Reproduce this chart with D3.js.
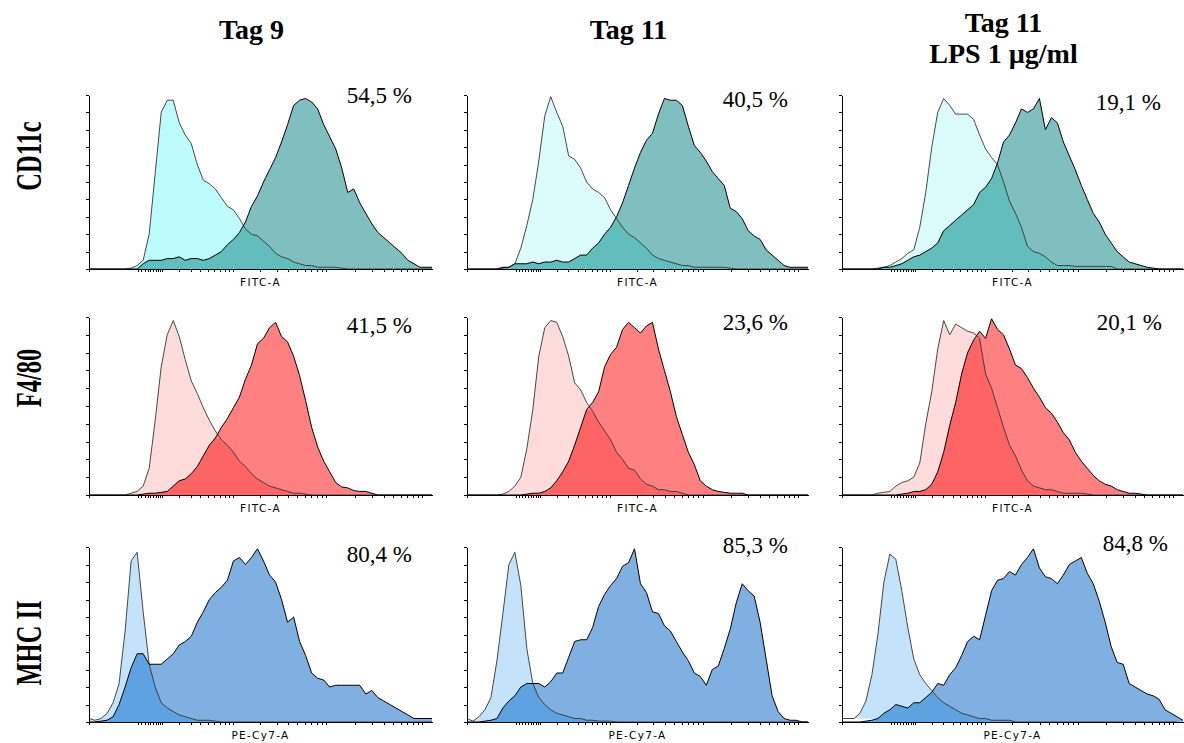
<!DOCTYPE html>
<html>
<head>
<meta charset="utf-8">
<script src="https://cdn.jsdelivr.net/npm/d3@7"></script>
<style>
  body { margin: 0; background: #fff; }
  text { fill: #000; }
</style>
</head>
<body>
<script>
  // Column headings, row markers, axis titles
  const colTitles = [["Tag 9"], ["Tag 11"], ["Tag 11", "LPS 1 µg/ml"]];
  const rowLabels = ["CD11c", "F4/80", "MHC II"];
  const axisTitles = ["FITC-A", "FITC-A", "PE-Cy7-A"];
  const percentValues = [
    [54.5, 40.5, 19.1],
    [41.5, 23.6, 20.1],
    [80.4, 85.3, 84.8],
  ];

  // Histogram channels (bins along the transformed x axis), counts in % of max
  const channels = d3.range(58);

  const cd11cTag9Ctrl  = [0,0,0,0,0,0,0, 0.5,2,5,20,55,90,97, 97,84,77,72,60,51,49, 46,41,36,34,29,23,20, 19,16,13,9,7,6,4, 3,2,2,1,1,1,1, 0.5,0,0,0,0,0,0, 0,0,0,0,0,0,0,0,0];
  const cd11cTag9Stain = [0,0,0,0,0,0,0,0,0, 3,5,5,5,6,6,7, 5,6,6,5,6,8,10, 14,17,21,27,36,42,50, 57,64,73,83,94,97,98, 96,92,83,76,69,58,44, 46,38,32,26,21,18,15, 12,9,5,3,1,1,1];
  const cd11cTag11Ctrl  = [0,0,0,0,0,0, 0.5,1,3,12,25,40,62, 88,99,90,82,65,63,58, 50,46,44,41,34,29,24, 20,18,15,12,8,6,5, 4,3,2,2,1,1,1, 1,1,1,0.5,0,0,0, 0,0,0,0,0,0,0,0,0,0];
  const cd11cTag11Stain = [0,0,0,0,0,0, 1,1,3,3,3,4,3, 4,4,5,4,4,6,8, 8,12,15,20,24,30,38, 48,58,67,74,78,89,98, 97,97,94,82,71,67,62, 56,52,48,35,33,29,22, 19,17,11,8,5,2,1, 1,1,1];
  const cd11cLpsCtrl  = [0,0,0,0,0,0, 0.5,1,2,4,6,9,11, 24,44,70,90,98,94,89, 89,89,86,77,69,64,60, 50,39,32,24,13,10,9, 7,4,2,2,2,1.5,1.5, 1.5,1.5,1.5,1.5,1.5,0,0, 0,0,0,0,0,0,0,0,0,0];
  const cd11cLpsStain = [0,0,0,0,0,0,0, 1,1,2,3,5,7,8, 10,12,15,22,25,28,31, 34,37,44,47,52,61,73, 77,84,92,90,92,98,80, 87,84,73,65,57,48,40, 32,27,20,15,10,7,4, 3,2,1,0.5,0,0,0, 0,0];

  const f480Tag9Ctrl  = [0,0,0,0,0,0,0, 1,2,5,15,42,72,90, 98,89,76,64,57,49,42, 36,31,28,24,19,16,12, 9,7,5,4,3,2,1, 1,0.5,0,0,0,0,0, 0,0,0,0,0,0,0,0,0,0,0,0,0,0,0,0];
  const f480Tag9Stain = [0,0,0,0,0,0,0,0,0, 0.5,1,1,1.5,2,5,8, 9,12,16,22,28,32,38, 43,49,55,65,73,85,88, 94,97,89,86,78,67,53, 38,27,19,13,7,4.5,4, 2.5,2,2,1,0,0,0, 0,0,0,0,0,0,0];
  const f480Tag11Ctrl  = [0,0,0,0,0,0, 0.5,2,5,10,26,48,78, 94,98,97,89,78,63,59, 52,47,41,36,31,24,20, 15,14,9,6,5,3,3, 2,2,1,0,0,0,0, 0,0,0,0,0,0,0,0,0,0,0,0,0,0,0,0,0];
  const f480Tag11Stain = [0,0,0,0,0,0,0,0,0,0, 0.5,1,1,2,4,8,13, 19,28,38,48,52,58,72, 79,83,93,97,94,91,95, 97,82,70,58,44,34,24, 17,8,5,3,2,1.5,1, 1,1,0,0,0,0,0, 0,0,0,0,0,0];
  const f480LpsCtrl  = [0,0,0,0,0,0, 1,1.5,2,5,7,8,10, 18,40,58,82,98,90,96, 94,92,91,88,68,60,49, 38,28,22,14,8,5,4, 3,3,2,1,1,1,1, 0.5,0,0,0,0,0,0, 0,0,0,0,0,0,0,0,0,0];
  const f480LpsStain = [0,0,0,0,0,0,0,0,0,0, 0.5,1,2,2,3,6,13, 24,39,52,68,80,87,92, 88,99,93,90,82,73,71, 66,60,55,49,46,41,35, 31,24,19,15,11,8,6, 5,3,2,1,1,0.5,0, 0,0,0,0,0,0];

  const mhcTag9Ctrl  = [2,1,2,5,11,22,52, 92,97,63,33,20,11,8, 6,4,3,2,1,1,1, 0.5,0,0,0,0,0,0, 0,0,0,0,0,0,0,0,0,0,0,0,0,0,0,0,0,0,0,0,0,0,0,0,0,0,0,0,0,0];
  const mhcTag9Stain = [0,0,0.5,1,3,10,20, 31,39,39,33,33,33,36, 39,44,46,49,57,63,70, 74,77,81,92,94,90,94, 99,92,84,80,70,57,60, 46,38,28,25,24,20,21, 21,21,21,21,16,18,14, 12,10,8,6,4,2,2, 2,2];
  const mhcTag11Ctrl  = [2,0.5,3,7,14,35,62, 90,97,78,42,22,14,10, 7,5,4,3,2,2,1, 1,0.5,0.5,0.5,0,0,0, 0,0,0,0,0,0,0,0,0,0,0,0,0,0,0,0,0,0,0,0,0,0,0,0,0,0,0,0,0,0];
  const mhcTag11Stain = [0,0,0,0.5,1,2,8, 12,15,20,22,22,22,20, 23,28,28,37,46,47,47, 54,66,73,78,82,89,91, 99,79,74,63,62,55,52, 46,40,35,28,26,21,30, 32,42,53,68,79,75,72, 57,36,15,6,2,1,1, 0,0];
  const mhcLpsCtrl  = [2,2,2,5,12,27,50, 80,96,93,75,54,36,27, 22,18,14,11,9,7,5, 4,3,2,2,1,1,1, 1,0,0,0,0,0,0, 0,0,0,0,0,0,0,0,0,0,0,0,0,0,0,0,0,0,0,0,0,0];
  const mhcLpsStain = [0,0,0,0,0.5,1,2, 5,7,10,9,8,11,11, 14,17,22,21,27,31,38, 46,49,47,61,75,81,82, 86,84,90,94,99,88,83, 82,79,84,90,92,94,85, 79,69,57,43,34,33,22, 20,18,16,15,13,7,5, 3,1];

  // Fluorescence tick marks of the (biexponential-like) axis
  const tickDecades = [10, 100, 1000, 10000];
  const tickMultipliers = [1, 2, 3, 4, 5, 6, 7, 8, 9];
  const xDomain = [-200, 126000];
  const xTickValues = [xDomain[0], ...tickDecades.flatMap(d => tickMultipliers.map(m => m * d)), 100000];
  const yTickValues = [0, 10, 20, 30, 40, 50, 60, 70, 80, 90, 100];

  // table of panels built from the arrays above
  const panels = [
    [[cd11cTag9Ctrl, cd11cTag9Stain], [cd11cTag11Ctrl, cd11cTag11Stain], [cd11cLpsCtrl, cd11cLpsStain]],
    [[f480Tag9Ctrl, f480Tag9Stain], [f480Tag11Ctrl, f480Tag11Stain], [f480LpsCtrl, f480LpsStain]],
    [[mhcTag9Ctrl, mhcTag9Stain], [mhcTag11Ctrl, mhcTag11Stain], [mhcLpsCtrl, mhcLpsStain]],
  ];

  // colours per row: control, stained, overlap
  const palette = [
    { ctrl: ["#bcfcfc", "#dcfcfc", "#dcfcfc"], stain: "#80bfbf", both: "#62bdbd" },
    { ctrl: ["#ffdcdc", "#ffdcdc", "#ffdcdc"], stain: "#ff8080", both: "#ff6464" },
    { ctrl: ["#c4e2fa", "#c4e2fa", "#c4e2fa"], stain: "#80b0e2", both: "#5ea2e2" },
  ];

  // layout
  const width = 1184, height = 743;
  const colX = [[89, 432], [467, 808], [842, 1183]];
  const rowY = [[95, 269], [317, 495], [547, 722]];
  const pctBase = [[103, 107, 110], [333, 330, 330], [562, 553, 551]];
  const pctRight = [[412, 788, 1161], [412, 788, 1162], [412, 788, 1168]];

  const svg = d3.select("body").append("svg")
    .attr("width", width)
    .attr("height", height);

  const fmtPct = v => v.toFixed(1).replace(".", ",") + " %";

  // column titles
  colTitles.forEach((lines, c) => {
    const cx = (colX[c][0] + colX[c][1]) / 2 - 9;
    const t = svg.append("text")
      .attr("text-anchor", "middle")
      .attr("font-family", "'Liberation Serif', 'Times New Roman', serif")
      .attr("font-weight", "bold")
      .attr("font-size", 28);
    lines.forEach((s, k) => {
      t.append("tspan")
        .attr("x", cx)
        .attr("y", lines.length > 1 ? 32 + k * 31 : 39)
        .text(s);
    });
  });

  // row labels (condensed, rotated)
  const rowLabelY = [156, 378, 643];
  rowLabels.forEach((s, r) => {
    svg.append("text")
      .attr("transform", `translate(41,${rowLabelY[r]}) rotate(-90) scale(0.68,1)`)
      .attr("text-anchor", "middle")
      .attr("font-family", "'Liberation Serif', 'Times New Roman', serif")
      .attr("font-weight", "bold")
      .attr("font-size", 36)
      .text(s);
  });

  panels.forEach((row, r) => {
    row.forEach(([ctrl, stain], c) => {
      const [x0, x1] = colX[c];
      const [y0, y1] = rowY[r];

      const xChan = d3.scaleLinear().domain([0, channels.length - 1]).range([x0, x1]);
      const xFl = d3.scaleSymlog().constant(104).domain(xDomain).range([x0, x1]);
      const y = d3.scaleLinear().domain([0, 100]).range([y1, y0]);

      const g = svg.append("g");
      const clipId = `clip-${r}-${c}`;
      g.append("clipPath").attr("id", clipId)
        .append("rect").attr("x", x0).attr("y", y0 - 4).attr("width", x1 - x0).attr("height", y1 - y0 + 4);

      const plot = g.append("g").attr("clip-path", `url(#${clipId})`);

      const area = vals => d3.area()
        .x(i => xChan(i))
        .y0(y(0))
        .y1(i => y(vals[i]))(channels);
      const line = vals => d3.line()
        .x(i => xChan(i))
        .y(i => y(vals[i]))(channels);
      const both = channels.map(i => Math.min(ctrl[i], stain[i]));

      plot.append("path").attr("d", area(ctrl)).attr("fill", palette[r].ctrl[c]);
      plot.append("path").attr("d", area(stain)).attr("fill", palette[r].stain);
      plot.append("path").attr("d", area(both)).attr("fill", palette[r].both);

      // axes
      g.append("g")
        .attr("transform", `translate(0,${y1})`)
        .call(d3.axisBottom(xFl).tickValues(xTickValues).tickSize(3).tickSizeOuter(0).tickFormat(""))
        .call(a => a.selectAll("line,path").attr("stroke", "#000").attr("shape-rendering", "crispEdges"));
      g.append("g")
        .attr("transform", `translate(${x0},0)`)
        .call(d3.axisLeft(y).tickValues(yTickValues).tickSize(3).tickSizeOuter(0).tickFormat(""))
        .call(a => a.selectAll("line,path").attr("stroke", "#000").attr("shape-rendering", "crispEdges"));

      // outlines on top
      plot.append("path").attr("d", line(ctrl))
        .attr("fill", "none").attr("stroke", "#333").attr("stroke-width", 0.9);
      plot.append("path").attr("d", line(stain))
        .attr("fill", "none").attr("stroke", "#000").attr("stroke-width", 1);

      // axis title
      g.append("text")
        .attr("x", (x0 + x1) / 2)
        .attr("y", y1 + 17)
        .attr("text-anchor", "middle")
        .attr("font-family", "'DejaVu Sans', Verdana, sans-serif")
        .attr("font-size", 10.5)
        .attr("letter-spacing", 1.3)
        .attr("fill", "#222")
        .text(axisTitles[r]);

      // percentage
      g.append("text")
        .attr("x", pctRight[r][c])
        .attr("y", pctBase[r][c])
        .attr("text-anchor", "end")
        .attr("font-family", "'Liberation Serif', 'Times New Roman', serif")
        .attr("font-size", 23)
        .text(fmtPct(percentValues[r][c]));
    });
  });
</script>
</body>
</html>
